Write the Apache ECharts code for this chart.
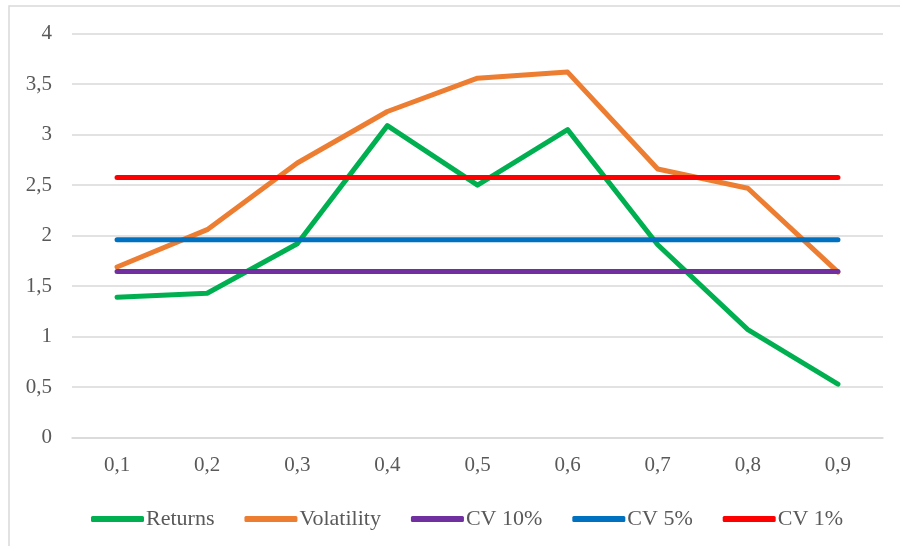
<!DOCTYPE html>
<html>
<head>
<meta charset="utf-8">
<script src="https://cdn.jsdelivr.net/npm/echarts@6/dist/echarts.min.js"></script>
<style>
  html, body { margin: 0; padding: 0; background: #fff; }
  #chart { width: 900px; height: 546px; }
</style>
</head>
<body>
<div id="chart"></div>
<script>
// Quantile levels on the x axis
const categories = ['0,1', '0,2', '0,3', '0,4', '0,5', '0,6', '0,7', '0,8', '0,9'];

// Series values
const returns    = [1.39, 1.43, 1.92, 3.09, 2.50, 3.05, 1.91, 1.07, 0.53];
const volatility = [1.69, 2.06, 2.72, 3.23, 3.56, 3.62, 2.66, 2.47, 1.64];

// Critical values (constant across the axis)
const cv10 = 1.645;
const cv5  = 1.96;
const cv1  = 2.576;

const FONT = '"Liberation Serif", "Times New Roman", serif';
const TEXT = '#595959';
const GRID = '#D9D9D9';

function flat(v) { return categories.map(() => v); }

function line(name, data, color) {
  return {
    name, type: 'line', data,
    symbol: 'none',
    lineStyle: { width: 5, color, cap: 'round', join: 'round' },
    itemStyle: { color },
    emphasis: { disabled: true },
    animation: false
  };
}

const chart = echarts.init(document.getElementById('chart'), null, { renderer: 'canvas' });
chart.setOption({
  backgroundColor: '#fff',
  animation: false,
  graphic: [{
    type: 'rect',
    shape: { x: 9, y: 6, width: 1000, height: 1000 },
    style: { fill: 'none', stroke: GRID, lineWidth: 1.5 },
    silent: true
  }],
  grid: { left: 72, right: 17, top: 33.7, bottom: 108.3, containLabel: false },
  xAxis: {
    type: 'category',
    data: categories,
    boundaryGap: true,
    axisLine: { lineStyle: { color: GRID, width: 1.5 } },
    axisTick: { show: false },
    axisLabel: { color: TEXT, fontFamily: FONT, fontSize: 21, margin: 17 }
  },
  yAxis: {
    type: 'value',
    min: 0, max: 4, interval: 0.5,
    axisLine: { show: false },
    axisTick: { show: false },
    splitLine: { lineStyle: { color: GRID, width: 1.5 } },
    axisLabel: {
      color: TEXT, fontFamily: FONT, fontSize: 21, margin: 20,
      formatter: v => String(v).replace('.', ',')
    }
  },
  legend: {
    left: 86, top: 503,
    itemWidth: 53, itemHeight: 6, itemGap: 30,
    icon: 'roundRect',
    textStyle: { color: TEXT, fontFamily: FONT, fontSize: 22, padding: [0, 0, 0, -3] },
    data: ['Returns', 'Volatility', 'CV 10%', 'CV 5%', 'CV 1%']
  },
  series: [
    line('Returns', returns, '#00B050'),
    line('Volatility', volatility, '#ED7D31'),
    line('CV 10%', flat(cv10), '#7030A0'),
    line('CV 5%', flat(cv5), '#0070C0'),
    line('CV 1%', flat(cv1), '#FF0000')
  ]
});
</script>
</body>
</html>
